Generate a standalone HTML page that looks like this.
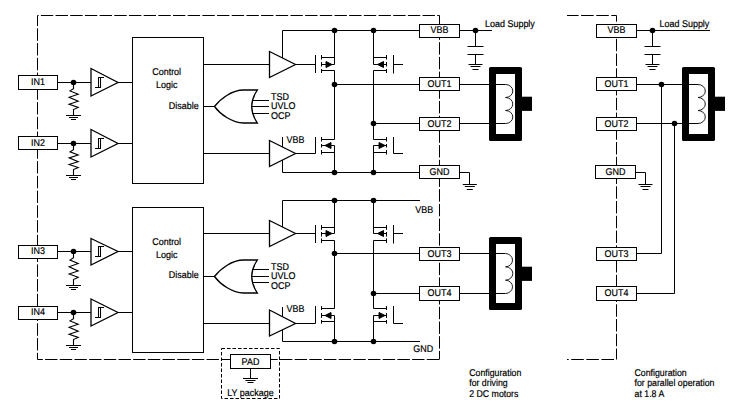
<!DOCTYPE html><html><head><meta charset="utf-8"><style>html,body{margin:0;padding:0;background:#fff;overflow:hidden;}svg{display:block}text{font-family:"Liberation Sans",sans-serif;text-rendering:geometricPrecision;fill:#000;stroke:#000;stroke-width:0.2px}</style></head><body>
<svg width="734" height="414" viewBox="0 0 734 414" fill="none" stroke="#000" stroke-width="1">
<rect x="0" y="0" width="734" height="414" fill="#fff" stroke="none"/>
<path d="M37.5 15.5H439.5" stroke-dasharray="12.4 2.28" stroke-dashoffset="11.3"/>
<path d="M37.5 15.5V359.5" stroke-dasharray="12.4 2.35" stroke-dashoffset="1.9"/>
<path d="M439.5 15.5V359.5" stroke-dasharray="12.4 2.3" stroke-dashoffset="2.7"/>
<path d="M37.5 359.5H439.5" stroke-dasharray="12.4 2.28" stroke-dashoffset="7.1"/>
<path d="M567 15.5H616.5" stroke-dasharray="12.6 2.5" stroke-dashoffset="1.0"/>
<path d="M616.5 15.5V359.5" stroke-dasharray="12.4 2.35" stroke-dashoffset="6.2"/>
<path d="M616.5 359.5H567" stroke-dasharray="12.6 2.5" stroke-dashoffset="12.6"/>
<rect x="18.5" y="75.5" width="39" height="14" fill="#fff" />
<text transform="translate(38 85.2) scale(0.915 1)" text-anchor="middle" font-size="9.8">IN1</text>
<path d="M57.5 82.5H91M118 82.5H132.5" />
<circle cx="73.5" cy="82.5" r="2.8" fill="#000" stroke="none"/>
<path d="M73.5 82.5V88.6L70 90.90L78.2 94.20L69.1 97.30L78.2 101.30L69.1 104.30L78.2 107.40L73.5 109.50V115.5" stroke-width="1.1"/>
<path d="M66.0 115.5H81.0M69.0 117.5H78.0M71.0 119.5H76.0" />
<path d="M91 68.5L118 82.5L91 96Z" stroke-width="1.3"/>
<path d="M95 87.5H100.5V77.5M104 77.5H98.5V87.5" stroke-width="1.05"/>
<rect x="18.5" y="136.5" width="39" height="13" fill="#fff" />
<text transform="translate(38 145.7) scale(0.915 1)" text-anchor="middle" font-size="9.8">IN2</text>
<path d="M57.5 143.5H91M118 143.5H132.5" />
<circle cx="73.5" cy="143.5" r="2.8" fill="#000" stroke="none"/>
<path d="M73.5 143.5V149.6L70 151.79L78.2 154.93L69.1 157.88L78.2 161.69L69.1 164.55L78.2 167.50L73.5 169.50V175.5" stroke-width="1.1"/>
<path d="M66.0 175.5H81.0M69.0 177.5H78.0M71.0 179.5H76.0" />
<path d="M91 129.5L118 143.5L91 157Z" stroke-width="1.3"/>
<path d="M95 148.5H100.5V138.5M104 138.5H98.5V148.5" stroke-width="1.05"/>
<rect x="132.5" y="37.5" width="71" height="146" fill="#fff" />
<text transform="translate(152.2 74.8) scale(0.915 1)" text-anchor="start" font-size="9.8">Control</text>
<text transform="translate(156 87.7) scale(0.915 1)" text-anchor="start" font-size="9.8">Logic</text>
<text transform="translate(168.8 109) scale(0.915 1)" text-anchor="start" font-size="9.8">Disable</text>
<path d="M203.5 64.5H269.5M203.5 153.5H269.5M203.5 106.5H214.5" />
<path d="M214.5 106.5C220 98.99 232 90 243.6 90H257.4Q246 106.5 257.4 123H243.6C232 123 220 114.01 214.5 106.5Z" fill="none" stroke-width="1.3"/>
<path d="M252.15 100.5H269M251.40 106.5H269M252.43 113.5H269" />
<text transform="translate(271 99.8) scale(0.915 1)" text-anchor="start" font-size="9.8">TSD</text>
<text transform="translate(271 108.9) scale(0.915 1)" text-anchor="start" font-size="9.8">UVLO</text>
<text transform="translate(271 119) scale(0.915 1)" text-anchor="start" font-size="9.8">OCP</text>
<path d="M269.5 51.5L295.5 64.5L269.5 77.5Z" stroke-width="1.3"/>
<path d="M282.5 58V30.5" />
<path d="M269.5 140.5L295.5 153.5L269.5 166.5Z" stroke-width="1.3"/>
<path d="M282.5 147V137M282.5 160V172.5" />
<text transform="translate(286.5 142.9) scale(0.915 1)" text-anchor="start" font-size="9.8">VBB</text>
<path d="M295.5 64.5H315.5M295.5 153.5H315.5" />
<path d="M282.5 30.5H419.5M282.5 172.5H419.5" />
<path d="M315.5 55V73" />
<path d="M321.5 55V59.5M321.5 62V66.5M321.5 69V73" />
<path d="M321.5 57.5H334.5M321.5 64.5H334.5M321.5 70.5H334.5" />
<path d="M334.5 30.5V64.5" />
<path d="M334.5 70.5V84.5" />
<path d="M326 61.5L332 64.5L326 67.5Z" fill="#000"/>
<path d="M393.5 55V73.5M393.5 64.5H403" />
<path d="M386.5 55V59.5M386.5 62V66.5M386.5 69V73" />
<path d="M386.5 57.5H373.5M386.5 64.5H373.5M386.5 70.5H373.5" />
<path d="M373.5 30.5V64.5" />
<path d="M373.5 70.5V123.5" />
<path d="M377.5 64.5L383.5 61.5L383.5 67.5Z" fill="#000"/>
<path d="M315.5 137V153.5" />
<path d="M321.5 137V141.5M321.5 144V147.5M321.5 150V154.5" />
<path d="M321.5 139.5H334.5M321.5 145.5H334.5M321.5 152.5H334.5" />
<path d="M334.5 84.5V139.5" />
<path d="M334.5 145.5V172.5" />
<path d="M325 145.5L331 142.5L331 148.5Z" fill="#000"/>
<path d="M393.5 137V153.5M393.5 153.5H403" />
<path d="M386.5 137V141.5M386.5 144V147.5M386.5 150V154.5" />
<path d="M386.5 139.5H373.5M386.5 145.5H373.5M386.5 152.5H373.5" />
<path d="M373.5 123.5V139.5" />
<path d="M373.5 145.5V172.5" />
<path d="M379 142.5L385 145.5L379 148.5Z" fill="#000"/>
<circle cx="334.5" cy="30.5" r="2.8" fill="#000" stroke="none"/>
<circle cx="373.5" cy="30.5" r="2.8" fill="#000" stroke="none"/>
<circle cx="334.5" cy="84.5" r="2.8" fill="#000" stroke="none"/>
<circle cx="373.5" cy="123.5" r="2.8" fill="#000" stroke="none"/>
<circle cx="334.5" cy="172.5" r="2.8" fill="#000" stroke="none"/>
<circle cx="373.5" cy="172.5" r="2.8" fill="#000" stroke="none"/>
<path d="M334.5 84.5H505.5M373.5 123.5H505.5" />
<rect x="419.5" y="77.5" width="40" height="13" fill="#fff" />
<text transform="translate(439.5 86.8) scale(0.915 1)" text-anchor="middle" font-size="9.8">OUT1</text>
<rect x="419.5" y="117.5" width="40" height="13" fill="#fff" />
<text transform="translate(439.5 126.8) scale(0.915 1)" text-anchor="middle" font-size="9.8">OUT2</text>
<rect x="489" y="67" width="33" height="74" rx="1.6" fill="#000" stroke="none"/>
<rect x="496" y="74" width="19" height="60" fill="#fff" stroke="none"/>
<rect x="521" y="96.7" width="11" height="14.2" fill="#000" stroke="none"/>
<path d="M495 84.5H505.5M495 123.5H505.5" />
<path d="M505.5 84.5A7.3 6.50 0 0 1 505.5 97.50A7.3 6.50 0 0 1 505.5 110.50A7.3 6.50 0 0 1 505.5 123.50" fill="none" stroke="#111" stroke-width="0.95"/>
<rect x="419.5" y="24.5" width="40" height="13" fill="#fff" />
<text transform="translate(439.5 33) scale(0.915 1)" text-anchor="middle" font-size="9.8">VBB</text>
<path d="M459.5 30.5H492" />
<circle cx="475.5" cy="30.5" r="2.8" fill="#000" stroke="none"/>
<path d="M475.5 30.5V46.5M467.5 46.5H483.5M467.5 54.5H483.5M475.5 54.5V64.5" />
<path d="M468.5 64.5H482.5M470.5 66.5H480.5M472.5 69.5H478.5" />
<text transform="translate(485 27.2) scale(0.915 1)" text-anchor="start" font-size="9.8">Load Supply</text>
<rect x="419.5" y="165.5" width="40" height="13" fill="#fff" />
<text transform="translate(439.5 175) scale(0.915 1)" text-anchor="middle" font-size="9.8">GND</text>
<path d="M459.5 172.5H469.5V184.5" />
<path d="M462.8 184.5H476.8M464.8 186.5H474.8M466.8 189.5H472.8" />
<rect x="18.5" y="245.5" width="39" height="13" fill="#fff" />
<text transform="translate(38 253.7) scale(0.915 1)" text-anchor="middle" font-size="9.8">IN3</text>
<path d="M57.5 251.5H91M118 251.5H132.5" />
<circle cx="73.5" cy="251.5" r="2.8" fill="#000" stroke="none"/>
<path d="M73.5 251.5V257.6L70 260.01L78.2 263.47L69.1 266.72L78.2 270.91L69.1 274.05L78.2 277.30L73.5 279.50V285.5" stroke-width="1.1"/>
<path d="M66.0 285.5H81.0M69.0 287.5H78.0M71.0 289.5H76.0" />
<path d="M91 238.5L118 251.5L91 265Z" stroke-width="1.3"/>
<path d="M95 256.5H100.5V246.5M104 246.5H98.5V256.5" stroke-width="1.05"/>
<rect x="18.5" y="306.5" width="39" height="13" fill="#fff" />
<text transform="translate(38 314.7) scale(0.915 1)" text-anchor="middle" font-size="9.8">IN4</text>
<path d="M57.5 312.5H91M118 312.5H132.5" />
<circle cx="73.5" cy="312.5" r="2.8" fill="#000" stroke="none"/>
<path d="M73.5 312.5V318.6L70 320.90L78.2 324.20L69.1 327.30L78.2 331.30L69.1 334.30L78.2 337.40L73.5 339.50V345.5" stroke-width="1.1"/>
<path d="M66.0 345.5H81.0M69.0 347.5H78.0M71.0 349.5H76.0" />
<path d="M91 299L118 312.5L91 326Z" stroke-width="1.3"/>
<path d="M95 317.5H100.5V307.5M104 307.5H98.5V317.5" stroke-width="1.05"/>
<rect x="132.5" y="207.5" width="71" height="145" fill="#fff" />
<text transform="translate(152.2 244.8) scale(0.915 1)" text-anchor="start" font-size="9.8">Control</text>
<text transform="translate(156 257.7) scale(0.915 1)" text-anchor="start" font-size="9.8">Logic</text>
<text transform="translate(168.8 278.1) scale(0.915 1)" text-anchor="start" font-size="9.8">Disable</text>
<path d="M203.5 233.5H269.5M203.5 323.5H269.5M203.5 276.5H214.5" />
<path d="M214.5 276.5C220 268.99 232 260 243.6 260H257.4Q246 276.5 257.4 293H243.6C232 293 220 284.01 214.5 276.5Z" fill="none" stroke-width="1.3"/>
<path d="M252.43 269.5H269M251.40 276.5H269M252.15 282.5H269" />
<text transform="translate(271 269.8) scale(0.915 1)" text-anchor="start" font-size="9.8">TSD</text>
<text transform="translate(271 278.9) scale(0.915 1)" text-anchor="start" font-size="9.8">UVLO</text>
<text transform="translate(271 289) scale(0.915 1)" text-anchor="start" font-size="9.8">OCP</text>
<path d="M269.5 220.5L295.5 233.5L269.5 246.5Z" stroke-width="1.3"/>
<path d="M282.5 227V200.5" />
<path d="M269.5 310L295.5 323.5L269.5 336Z" stroke-width="1.3"/>
<path d="M282.5 316.5V307M282.5 329.5V341.5" />
<text transform="translate(286.5 311.9) scale(0.915 1)" text-anchor="start" font-size="9.8">VBB</text>
<path d="M295.5 233.5H315.5M295.5 323.5H315.5" />
<path d="M282.5 200.5H420M282.5 341.5H420" />
<path d="M315.5 225V243" />
<path d="M321.5 225V229.8M321.5 232V236.6M321.5 238.5V243" />
<path d="M321.5 227.5H334.5M321.5 233.5H334.5M321.5 240.5H334.5" />
<path d="M334.5 200.5V233.5" />
<path d="M334.5 240.5V253.5" />
<path d="M326 230.5L332 233.5L326 236.5Z" fill="#000"/>
<path d="M393.5 225V243.5M393.5 233.5H403" />
<path d="M386.5 225V229.8M386.5 232V236.6M386.5 238.5V243" />
<path d="M386.5 227.5H373.5M386.5 233.5H373.5M386.5 240.5H373.5" />
<path d="M373.5 200.5V233.5" />
<path d="M373.5 240.5V293.5" />
<path d="M377.5 233.5L383.5 230.5L383.5 236.5Z" fill="#000"/>
<path d="M315.5 306V323.5" />
<path d="M321.5 306V310M321.5 313V318M321.5 320V323.7" />
<path d="M321.5 308.5H334.5M321.5 315.5H334.5M321.5 321.5H334.5" />
<path d="M334.5 253.5V308.5" />
<path d="M334.5 315.5V341.5" />
<path d="M325 315.5L331 312.5L331 318.5Z" fill="#000"/>
<path d="M393.5 306V323.5M393.5 323.5H403" />
<path d="M386.5 306V310M386.5 313V318M386.5 320V323.7" />
<path d="M386.5 308.5H373.5M386.5 315.5H373.5M386.5 321.5H373.5" />
<path d="M373.5 293.5V308.5" />
<path d="M373.5 315.5V341.5" />
<path d="M379 312.5L385 315.5L379 318.5Z" fill="#000"/>
<circle cx="334.5" cy="200.5" r="2.8" fill="#000" stroke="none"/>
<circle cx="373.5" cy="200.5" r="2.8" fill="#000" stroke="none"/>
<circle cx="334.5" cy="253.5" r="2.8" fill="#000" stroke="none"/>
<circle cx="373.5" cy="293.5" r="2.8" fill="#000" stroke="none"/>
<circle cx="334.5" cy="341.5" r="2.8" fill="#000" stroke="none"/>
<circle cx="373.5" cy="341.5" r="2.8" fill="#000" stroke="none"/>
<path d="M334.5 253.5H505.5M373.5 293.5H505.5" />
<rect x="419.5" y="247.5" width="40" height="13" fill="#fff" />
<text transform="translate(439.5 256.8) scale(0.915 1)" text-anchor="middle" font-size="9.8">OUT3</text>
<rect x="419.5" y="286.5" width="40" height="14" fill="#fff" />
<text transform="translate(439.5 296.3) scale(0.915 1)" text-anchor="middle" font-size="9.8">OUT4</text>
<rect x="489" y="237" width="33" height="73" rx="1.6" fill="#000" stroke="none"/>
<rect x="496" y="244" width="19" height="59" fill="#fff" stroke="none"/>
<rect x="521" y="266.7" width="11" height="14.2" fill="#000" stroke="none"/>
<path d="M495 253.5H505.5M495 293.5H505.5" />
<path d="M505.5 253.5A7.3 6.67 0 0 1 505.5 266.83A7.3 6.67 0 0 1 505.5 280.17A7.3 6.67 0 0 1 505.5 293.50" fill="none" stroke="#111" stroke-width="0.95"/>
<text transform="translate(415.2 212.9) scale(0.915 1)" text-anchor="start" font-size="9.8">VBB</text>
<text transform="translate(413.3 352.3) scale(0.915 1)" text-anchor="start" font-size="9.8">GND</text>
<path d="M221.5 348.5H279.5V398.5H221.5Z" stroke-dasharray="3.5 2"/>
<rect x="230.5" y="354.5" width="40" height="14" fill="#fff" />
<text transform="translate(250.5 365) scale(0.915 1)" text-anchor="middle" font-size="9.8">PAD</text>
<path d="M250.5 368.5V378.5" />
<path d="M243.0 378.5H258.0M245.5 380.5H255.5M247.5 382.5H253.5" />
<text transform="translate(250.5 395.9) scale(0.915 1)" text-anchor="middle" font-size="9.8">LY package</text>
<rect x="596.5" y="24.5" width="40" height="13" fill="#fff" />
<text transform="translate(616.5 33) scale(0.915 1)" text-anchor="middle" font-size="9.8">VBB</text>
<path d="M636.5 30.5H710" />
<circle cx="652.5" cy="30.5" r="2.8" fill="#000" stroke="none"/>
<path d="M652.5 30.5V46.5M644.5 46.5H660.5M644.5 54.5H660.5M652.5 54.5V64.5" />
<path d="M645.5 64.5H659.5M647.5 66.5H657.5M649.5 69.5H655.5" />
<text transform="translate(659.5 27.2) scale(0.915 1)" text-anchor="start" font-size="9.8">Load Supply</text>
<path d="M636.5 84.5H698.5M636.5 123.5H698.5" />
<path d="M661.5 84.5V253.5H636.5M674.5 123.5V293.5H636.5" />
<circle cx="661.5" cy="84.5" r="2.8" fill="#000" stroke="none"/>
<circle cx="674.5" cy="123.5" r="2.8" fill="#000" stroke="none"/>
<rect x="596.5" y="77.5" width="40" height="13" fill="#fff" />
<text transform="translate(616.5 86.8) scale(0.915 1)" text-anchor="middle" font-size="9.8">OUT1</text>
<rect x="596.5" y="117.5" width="40" height="13" fill="#fff" />
<text transform="translate(616.5 126.8) scale(0.915 1)" text-anchor="middle" font-size="9.8">OUT2</text>
<rect x="596.5" y="247.5" width="40" height="13" fill="#fff" />
<text transform="translate(616.5 256.8) scale(0.915 1)" text-anchor="middle" font-size="9.8">OUT3</text>
<rect x="596.5" y="286.5" width="40" height="14" fill="#fff" />
<text transform="translate(616.5 296.3) scale(0.915 1)" text-anchor="middle" font-size="9.8">OUT4</text>
<rect x="595.5" y="165.5" width="40" height="13" fill="#fff" />
<text transform="translate(615.5 175) scale(0.915 1)" text-anchor="middle" font-size="9.8">GND</text>
<path d="M635.5 172.5H645.5V184.5" />
<path d="M638.5 184.5H652.5M640.5 186.5H650.5M642.5 189.5H648.5" />
<rect x="682" y="67" width="33" height="74" rx="1.6" fill="#000" stroke="none"/>
<rect x="689" y="74" width="19" height="60" fill="#fff" stroke="none"/>
<rect x="714" y="96.7" width="11" height="14.2" fill="#000" stroke="none"/>
<path d="M688 84.5H698M688 123.5H698" />
<path d="M698 84.5A7.3 6.50 0 0 1 698 97.50A7.3 6.50 0 0 1 698 110.50A7.3 6.50 0 0 1 698 123.50" fill="none" stroke="#111" stroke-width="0.95"/>
<text transform="translate(469.2 375.5) scale(0.895 1)" text-anchor="start" font-size="9.8">Configuration</text>
<text transform="translate(469.2 386.1) scale(0.895 1)" text-anchor="start" font-size="9.8">for driving</text>
<text transform="translate(469.2 397) scale(0.895 1)" text-anchor="start" font-size="9.8">2 DC motors</text>
<text transform="translate(634.5 375.5) scale(0.895 1)" text-anchor="start" font-size="9.8">Configuration</text>
<text transform="translate(634.5 386.1) scale(0.895 1)" text-anchor="start" font-size="9.8">for parallel operation</text>
<text transform="translate(634.5 397) scale(0.895 1)" text-anchor="start" font-size="9.8">at 1.8 A</text>
</svg></body></html>
